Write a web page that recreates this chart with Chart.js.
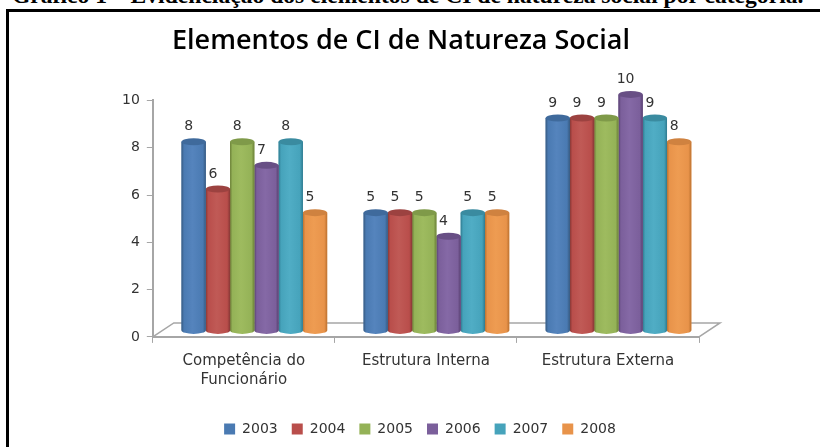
<!DOCTYPE html>
<html>
<head>
<meta charset="utf-8">
<style>
html, body { margin: 0; padding: 0; background: #fff; overflow: hidden; }
#wrap { position: relative; width: 820px; height: 447px; overflow: hidden; }
#heading { position: absolute; left: 12px; top: -16px; font: bold 23.6px/23px "Liberation Serif", serif; color: #000; white-space: nowrap; }
#frame { position: absolute; left: 6px; top: 9px; width: 830px; height: 460px; border: 3px solid #000; box-sizing: border-box; }
canvas { position: absolute; left: 0; top: 0; }
</style>
<script src="https://cdn.jsdelivr.net/npm/chart.js@4"></script>
</head>
<body>
<div id="wrap">
  <div id="heading">Gráfico 1 – Evidenciação dos elementos de CI de natureza social por categoria.</div>
  <div id="frame"></div>
  <canvas id="chart" width="820" height="447"></canvas>
</div>
<script>
const categories = [['Competência do', 'Funcionário'], 'Estrutura Interna', 'Estrutura Externa'];
const years = ['2003', '2004', '2005', '2006', '2007', '2008'];
const values2003 = [8, 5, 9];
const values2004 = [6, 5, 9];
const values2005 = [8, 5, 9];
const values2006 = [7, 4, 10];
const values2007 = [8, 5, 9];
const values2008 = [5, 5, 8];
const yTicks = [0, 2, 4, 6, 8, 10];
const allValues = [values2003, values2004, values2005, values2006, values2007, values2008];
const colors = ['#4a7ab2', '#b94e4b', '#94b257', '#7b5f9b', '#46a3bb', '#e8934a'];
const darks = ['#36597f', '#873735', '#6b8038', '#573f70', '#2f7a8f', '#bd7230'];
const lights = ['#5584bd', '#c05a56', '#9ebb5f', '#8569a6', '#50adc5', '#ee9c52'];
const tops = ['#3f6a9c', '#9c4240', '#7f9a49', '#684f85', '#3a8ba0', '#cf8240'];

const depthX = 10.5, depthY = -6;
const textColor = '#333';
const axisColor = '#a6a6a6';
const fontName = '"DejaVu Sans", sans-serif';

// floor of the 3d plot, drawn from the scale edges
const floorPlugin = {
    id: 'floor',
    afterLayout(chart) {
        // reference has legend and title off the layout centre
        chart.legend.left += 13;
        chart.legend.right += 13;
        chart.titleBlock.left -= 6;
        chart.titleBlock.right -= 6;
    },
    beforeDatasetsDraw(chart) {
        const c = chart.ctx, x = chart.scales.x, y0 = chart.scales.y.getPixelForValue(0);
        c.save();
        c.strokeStyle = axisColor;
        c.lineWidth = 1.5;
        c.beginPath();
        c.moveTo(x.left, y0);
        c.lineTo(x.left + 21, y0 - 14);
        c.lineTo(x.right + 21, y0 - 14);
        c.lineTo(x.right, y0);
        c.stroke();
        c.restore();
    }
};

// turns the library's flat bars into cylinders, plus the value labels
const cylinderPlugin = {
    id: 'cylinder',
    beforeDatasetDraw(chart) {
        chart.ctx.save();
        chart.ctx.translate(depthX, depthY);
    },
    afterDatasetDraw(chart, args) {
        const c = chart.ctx, i = args.index;
        chart.getDatasetMeta(i).data.forEach((bar) => {
            const left = bar.x - bar.width / 2, w = bar.width, rx = w / 2, ry = 3.5;
            const g = c.createLinearGradient(left, 0, left + w, 0);
            g.addColorStop(0, darks[i]);
            g.addColorStop(0.1, colors[i]);
            g.addColorStop(0.45, lights[i]);
            g.addColorStop(0.88, colors[i]);
            g.addColorStop(1, darks[i]);
            c.fillStyle = g;
            c.beginPath();
            c.ellipse(bar.x, bar.base, rx, ry, 0, 0, Math.PI);
            c.lineTo(bar.x - rx, bar.y);
            c.lineTo(bar.x + rx, bar.y);
            c.closePath();
            c.fill();
            c.fillStyle = tops[i];
            c.beginPath();
            c.ellipse(bar.x, bar.y, rx, ry, 0, 0, Math.PI * 2);
            c.fill();
        });
        c.restore();
    },
    afterDatasetsDraw(chart) {
        const c = chart.ctx;
        c.save();
        c.font = '14px ' + fontName;
        c.fillStyle = textColor;
        c.textAlign = 'center';
        c.textBaseline = 'middle';
        chart.data.datasets.forEach((ds, i) => {
            chart.getDatasetMeta(i).data.forEach((bar, j) => {
                c.fillText(ds.data[j], bar.x + depthX - 5, bar.y + depthY - 15);
            });
        });
        c.restore();
    }
};

new Chart(document.getElementById('chart'), {
    type: 'bar',
    data: {
        labels: categories,
        datasets: years.map((year, i) => ({
            label: year,
            data: allValues[i],
            backgroundColor: colors[i],
            categoryPercentage: 0.8,
            barPercentage: 1
        }))
    },
    options: {
        responsive: false,
        animation: false,
        layout: { padding: { left: 115, right: 121, top: 25, bottom: 1 } },
        scales: {
            x: {
                grid: { display: true, drawOnChartArea: false, color: axisColor, tickLength: 6, offset: true },
                border: { color: axisColor, width: 2 },
                ticks: { color: textColor, font: { family: fontName, size: 15, lineHeight: 1.27 }, maxRotation: 0, padding: 9 },
                afterFit(axis) { axis.height += 9; }
            },
            y: {
                min: 0,
                max: 10,
                afterBuildTicks(axis) { axis.ticks = yTicks.map((v) => ({ value: v })); },
                grid: { display: true, drawOnChartArea: false, color: axisColor, tickLength: 6 },
                border: { color: axisColor, width: 2 },
                ticks: { color: textColor, font: { family: fontName, size: 14 }, padding: 7 }
            }
        },
        plugins: {
            title: {
                display: true,
                text: 'Elementos de CI de Natureza Social',
                color: '#000',
                font: { family: '"Open Sans", sans-serif', size: 27, weight: '600' },
                padding: { top: 0, bottom: 43 }
            },
            legend: {
                position: 'bottom',
                labels: { boxWidth: 11, boxHeight: 11, padding: 14, color: textColor, font: { family: fontName, size: 14 } }
            },
            tooltip: { enabled: false }
        }
    },
    plugins: [floorPlugin, cylinderPlugin]
});
</script>
</body>
</html>
